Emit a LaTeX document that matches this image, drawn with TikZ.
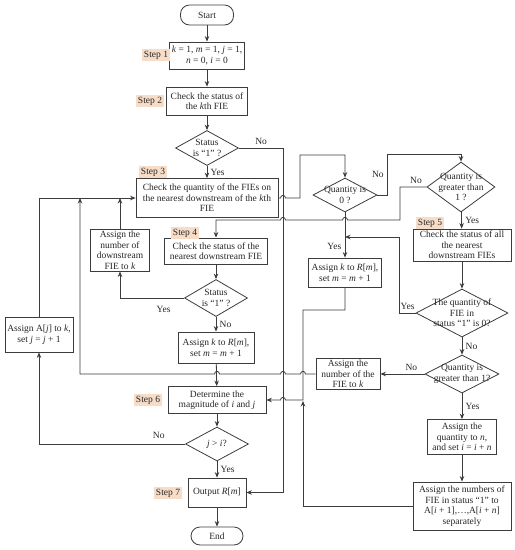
\documentclass[tikz,border=0pt]{standalone}
\usepackage{fontspec}
\setmainfont{Liberation Serif}
\usetikzlibrary{shapes.geometric,arrows.meta}
\definecolor{lc}{HTML}{3C3C3C}
\definecolor{tagc}{HTML}{F7DDC8}
% small hop over a vertical line (going right / going left)
\newcommand\hopr[2]{-- (#1-2.5,#2) .. controls (#1-2.5,#2-3.5) and (#1+2.5,#2-3.5) .. (#1+2.5,#2)}
\newcommand\hopl[2]{-- (#1+2.5,#2) .. controls (#1+2.5,#2-3.5) and (#1-2.5,#2-3.5) .. (#1-2.5,#2)}
\begin{document}
\begin{tikzpicture}[x=1pt,y=-1pt,
  font=\fontsize{9.5}{10.5}\selectfont, text=black!85,
  box/.style={draw=lc, line width=0.8pt, align=center, inner sep=2pt},
  term/.style={box, rounded corners=9pt},
  dec/.style={diamond, draw=lc, line width=0.8pt, inner sep=0pt},
  tag/.style={fill=tagc, inner sep=1.5pt},
  every label/.style={align=center, inner sep=0pt},
  ar/.style={draw=lc, line width=0.8pt, -{Stealth[length=5.5pt,width=4.5pt]}}]
\useasboundingbox (0,0) rectangle (515,550);
% vertices
\node[term, minimum width=53, minimum height=20] (0) at (207,15) {Start};
\node[box, minimum width=71, minimum height=27] (1) at (207,55.5) {\textit{k} = 1, \textit{m} = 1, \textit{j} = 1,\\\textit{n} = 0, \textit{i} = 0};
\node[box, minimum width=81, minimum height=28] (2) at (207,101) {Check the status of\\the \textit{k}th FIE};
\node[dec, minimum width=63, minimum height=35, label={center:{Status\\is “1” ?}}] (3) at (207,148) {};
\node[box, minimum width=142, minimum height=39] (4) at (207,198) {Check the quantity of the FIEs on\\the nearest downstream of the \textit{k}th\\FIE};
\node[dec, minimum width=64, minimum height=34, label={center:{Quantity is\\0 ?}}] (5) at (345,195) {};
\node[dec, minimum width=68, minimum height=50, label={center:{Quantity is\\greater than\\1 ?}}] (6) at (461,187) {};
\node[box, minimum width=98, minimum height=32] (7) at (462,245) {Check the status of all\\the nearest\\downstream FIEs};
\node[dec, minimum width=92, minimum height=48, label={center:{The quantity of\\FIE in\\status “1” is 0?}}] (8) at (462,313) {};
\node[dec, minimum width=74, minimum height=38, label={center:{Quantity is\\greater than 1?}}] (9) at (462,374) {};
\node[box, minimum width=69, minimum height=35] (10) at (462,437) {Assign the\\quantity to \textit{n},\\and set \textit{i} = \textit{i} + \textit{n}};
\node[box, minimum width=98, minimum height=48] (11) at (462,506) {Assign the numbers of\\FIE in status “1” to\\A[\textit{i} + 1],…,A[\textit{i} + \textit{n}]\\separately};
\node[box, minimum width=64, minimum height=29] (12) at (348,374) {Assign the\\number of the\\FIE to \textit{k}};
\node[box, minimum width=73, minimum height=29] (13) at (345,272.5) {Assign \textit{k} to \textit{R}[\textit{m}],\\set \textit{m} = \textit{m} + 1};
\node[box, minimum width=103, minimum height=26] (14) at (216,251) {Check the status of the\\nearest downstream FIE};
\node[dec, minimum width=63, minimum height=37, label={center:{Status\\is “1” ?}}] (15) at (216,298) {};
\node[box, minimum width=59, minimum height=42] (16) at (120,250) {Assign the\\number of\\downstream\\FIE to \textit{k}};
\node[box, minimum width=76, minimum height=31] (17) at (216,347.5) {Assign \textit{k} to \textit{R}[\textit{m}],\\set \textit{m} = \textit{m} + 1};
\node[box, minimum width=98, minimum height=27] (18) at (217,400) {Determine the\\magnitude of \textit{i} and \textit{j}};
\node[dec, minimum width=63, minimum height=34, label={center:{\textit{j} > \textit{i}?}}] (19) at (217,444) {};
\node[box, minimum width=68, minimum height=35] (20) at (39,334.5) {Assign A[\textit{j}] to \textit{k},\\set \textit{j} = \textit{j} + 1};
\node[box, minimum width=58, minimum height=29] (21) at (217,492.5) {Output \textit{R}[\textit{m}]};
\node[term, minimum width=52, minimum height=18] (22) at (217,536) {End};
% step tags
\node[tag] (st1) at (156,55) {Step 1};
\node[tag] (st2) at (150,101) {Step 2};
\node[tag] (st3) at (153,172) {Step 3};
\node[tag] (st4) at (185,233) {Step 4};
\node[tag] (st5) at (430,223) {Step 5};
\node[tag] (st6) at (148,400) {Step 6};
\node[tag] (st7) at (168,493) {Step 7};
% junctions
\coordinate (j1) at (345,237);
\coordinate (j2) at (303,401);
\coordinate (j3) at (80,198);
\coordinate (j4) at (120,198);
%edges
\draw[ar] (0) --(1) ;
\draw[ar] (1) --(2) ;
\draw[ar] (2) --(3) ;
\draw[ar] (3) -- node[right]{Yes} (4) ;
\draw[ar] (3.east) -- node[above]{No} ++(44.5,0) |- (21.east) ;
\draw[ar] (4.east) \hopr{283}{198} -- (300,198) -- (300,155) -| (5.north) ;
\draw[ar] (5.east) -- ++(10,0) -- node[left]{No} ++(0,-41) -| (6.north) ;
\draw[ar] (5) -- node[left, pos=0.75]{Yes} (13) ;
\draw[ar] (6.west) -- node[above, pos=0.4]{No} (400,187) -- (400,220) \hopl{345}{220} \hopl{283}{220} -| (14.north) ;
\draw[ar] (6) -- node[right]{Yes} (7) ;
\draw[ar] (7) --(8) ;
\draw[ar] (8.west) -- node[above]{Yes} ++(-16,0) |- (j1) ;
\draw[ar] (8) -- node[right]{No} (9) ;
\draw[ar] (9) -- node[above, pos=0.3]{No} (12) ;
\draw[ar] (9) -- node[right]{Yes} (10) ;
\draw[ar] (10) --(11) ;
\draw[ar] (11.west) -| (j2) ;
\draw[ar] (13.south) -- (345,310) -- (303,310) -- (303,400) \hopl{283}{400} -- (18.east) ;
\draw[ar] (12.west) \hopl{303}{374} \hopl{283}{374} \hopl{217}{374} -| (j3) ;
\draw[ar] (14) --(15) ;
\draw[ar] (15.west) -| node[below=5pt, pos=0.16]{Yes} (16.south) ;
\draw[ar] (16) --(j4) ;
\draw[ar] (15) -- node[right]{No} (17) ;
\draw[ar] (17) --(18) ;
\draw[ar] (18) --(19) ;
\draw[ar] (19.west) -| node[above=2pt, pos=0.09]{No} (20.south) ;
\draw[ar] (20.north) |- (4.west) ;
\draw[ar] (19) -- node[right]{Yes} (21) ;
\draw[ar] (21) --(22) ;
\end{tikzpicture}
\end{document}
